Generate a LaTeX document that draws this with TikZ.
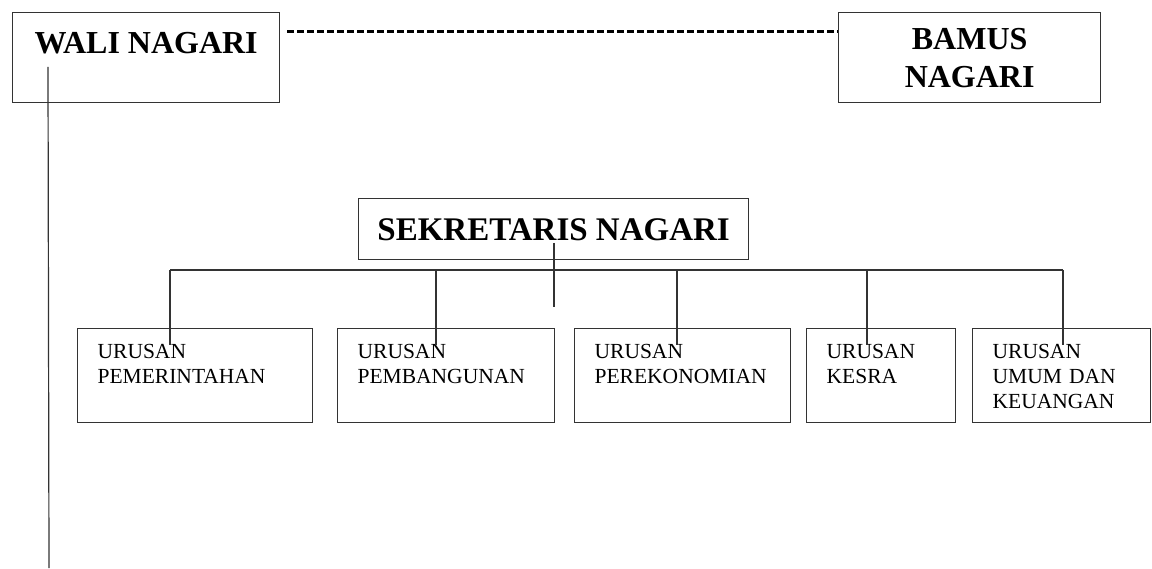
\documentclass[tikz,border=0pt]{standalone}
\usepackage{fontspec}
\setmainfont{Liberation Serif}

\begin{document}
\begin{tikzpicture}[x=1pt,y=-1pt,line width=1.2pt,
  head/.style={draw=black!80,line width=1.3pt,anchor=north west,inner sep=0pt,align=center,
    font=\bfseries\fontsize{32}{38}\selectfont},
  urusan/.style={draw=black!80,line width=1.3pt,anchor=north west,inner xsep=20pt,inner ysep=0pt,
    align=left,text height=30pt,text depth=64pt,
    font=\fontsize{21.5}{25}\selectfont},
  link/.style={draw=black!80,line width=1.2pt}]
\useasboundingbox (0,0) rectangle (1152,569);

% kepala nagari dan bamus
\node[head,minimum width=267pt,text height=41pt,text depth=49pt] (wali) at (12,12) {WALI NAGARI};
\node[head,minimum width=262pt,minimum height=90pt] (bamus) at (838,12) {BAMUS\\NAGARI};
\coordinate (dashL) at (287,32);
\coordinate (dashR) at (bamus.west |- dashL);
\draw[line width=3pt,dash pattern=on 7pt off 3pt] (dashL) -- (dashR);

% sekretaris
\node[head,minimum width=390pt,text height=42pt,text depth=19pt,
  font=\bfseries\fontsize{33}{38}\selectfont] (sek) at (358,198) {SEKRETARIS NAGARI};
\coordinate (sekIn) at (554,243);
\coordinate (sekEnd) at (554,307);
\draw[link] (sekIn) -- (sekEnd);

% urusan
\node[urusan,text width=195pt] (u1) at (77,328) {URUSAN\\PEMERINTAHAN};
\node[urusan,text width=177pt] (u2) at (337,328) {URUSAN\\PEMBANGUNAN};
\node[urusan,text width=176pt] (u3) at (574,328) {URUSAN\\PEREKONOMIAN};
\node[urusan,text width=109pt] (u4) at (806,328) {URUSAN\\KESRA};
\node[urusan,text width=138pt] (u5) at (972,328) {URUSAN\\UMUM DAN\\KEUANGAN};

\coordinate (busL) at (170,270);
\coordinate (busR) at (1063,270);
\draw[link] (busL) -- (busR);
\foreach \n/\x in {u1/170,u2/436,u3/677,u4/867,u5/1063}
  \draw[link] (busL -| \x,0) -- ++(0,75);

% garis wali nagari
\coordinate (waliEnd) at (49,568);
\draw[link] ([xshift=36pt,yshift=-55pt]wali.north west) -- (waliEnd);
\end{tikzpicture}
\end{document}
